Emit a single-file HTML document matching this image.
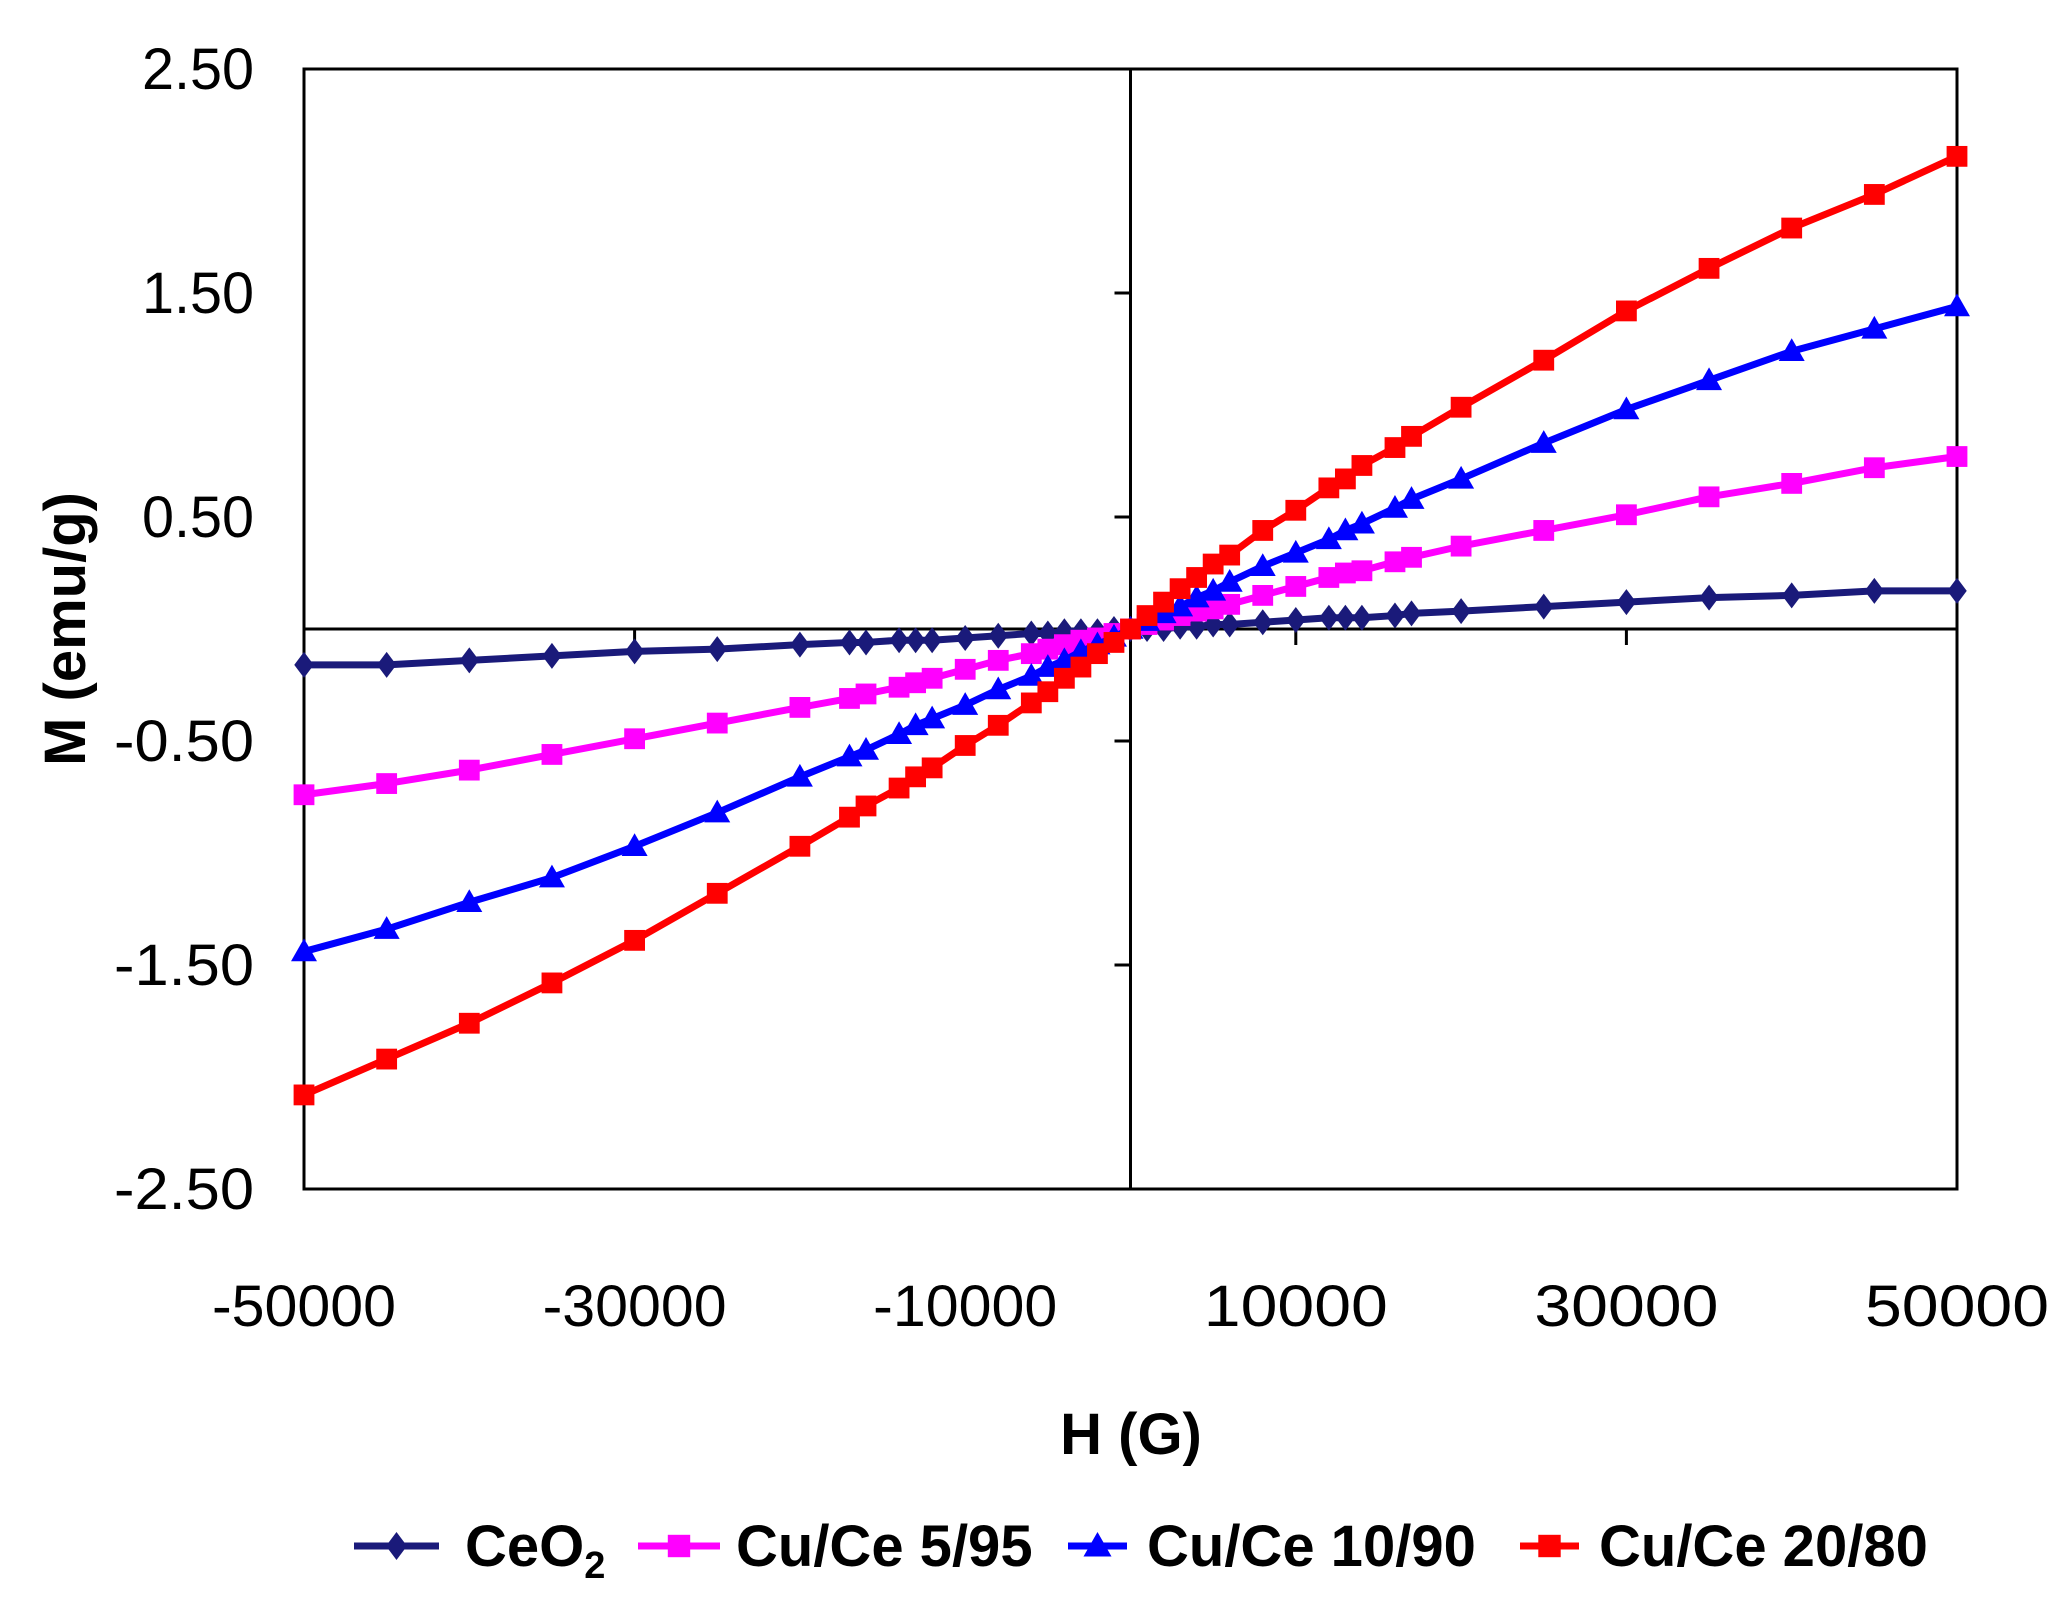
<!DOCTYPE html>
<html><head><meta charset="utf-8"><style>
body{margin:0;background:#fff}
svg text{font-family:"Liberation Sans Narrow","Liberation Sans",sans-serif}
</style></head><body>
<svg id="chart" width="2072" height="1611" viewBox="0 0 2072 1611" xmlns="http://www.w3.org/2000/svg">
<rect width="2072" height="1611" fill="#fff"/>
<g id="axes"></g>
<g id="series"></g>
<text x="1131" y="1454" font-size="58" font-weight="bold" text-anchor="middle">H (G)</text>
<text transform="translate(85,629) rotate(-90)" font-size="58" font-weight="bold" text-anchor="middle">M (emu/g)</text>
<g id="legend"></g>
</svg>
<script>
const H = [-50000,-45000,-40000,-35000,-30000,-25000,-20000,-17000,-16000,-14000,-13000,-12000,-10000,-8000,-6000,-5000,-4000,-3000,-2000,-1000,0,1000,2000,3000,4000,5000,6000,8000,10000,12000,13000,14000,16000,17000,20000,25000,30000,35000,40000,45000,50000];
const ceo2 = [-0.16,-0.16,-0.14,-0.12,-0.10,-0.09,-0.07,-0.06,-0.06,-0.05,-0.05,-0.05,-0.04,-0.03,-0.02,-0.02,-0.01,-0.01,-0.01,0,0,0,0,0.01,0.01,0.02,0.02,0.03,0.04,0.05,0.05,0.05,0.06,0.07,0.08,0.10,0.12,0.14,0.15,0.17,0.17];
const cu595 = [-0.74,-0.69,-0.63,-0.56,-0.49,-0.42,-0.35,-0.31,-0.29,-0.26,-0.24,-0.22,-0.18,-0.14,-0.11,-0.09,-0.07,-0.05,-0.04,-0.02,0,0.02,0.04,0.06,0.08,0.09,0.11,0.15,0.19,0.23,0.25,0.26,0.30,0.32,0.37,0.44,0.51,0.59,0.65,0.72,0.77];
const cu1090 = [-1.44,-1.34,-1.22,-1.11,-0.97,-0.82,-0.66,-0.57,-0.54,-0.47,-0.43,-0.40,-0.34,-0.27,-0.21,-0.17,-0.14,-0.10,-0.07,-0.035,0,0.035,0.07,0.10,0.14,0.17,0.21,0.28,0.34,0.40,0.44,0.47,0.54,0.58,0.67,0.83,0.98,1.11,1.24,1.34,1.44];
const cu2080 = [-2.08,-1.92,-1.76,-1.58,-1.39,-1.18,-0.97,-0.84,-0.79,-0.71,-0.66,-0.62,-0.52,-0.43,-0.33,-0.28,-0.22,-0.17,-0.11,-0.06,0,0.06,0.12,0.18,0.23,0.29,0.33,0.44,0.53,0.63,0.67,0.73,0.81,0.86,0.99,1.20,1.42,1.61,1.79,1.94,2.11];
const xTicks = [-50000,-30000,-10000,10000,30000,50000];
const yTicks = [-2.5,-1.5,-0.5,0.5,1.5,2.5];
const yTickLabels = ["-2.50","-1.50","-0.50","0.50","1.50","2.50"];

const L=304,R=1957,T=69,B=1189;
const xs=v=>L+(v+50000)/100000*(R-L);
const ys=v=>B-(v+2.5)/5*(B-T);
const NS="http://www.w3.org/2000/svg";
function mk(tag,attrs,parent){const e=document.createElementNS(NS,tag);for(const k in attrs)e.setAttribute(k,attrs[k]);parent.appendChild(e);return e;}
const ax=document.getElementById('axes');
let e=mk('rect',{x:L,y:T,width:R-L,height:B-T,fill:'none',stroke:'#000','stroke-width':3},ax);


e=mk('line',{x1:L,x2:R,y1:ys(0),y2:ys(0),stroke:'#000','stroke-width':3},ax);


e=mk('line',{x1:xs(0),x2:xs(0),y1:T,y2:B,stroke:'#000','stroke-width':3},ax);


xTicks.forEach(v=>{
  const t=mk('line',{x1:xs(v),x2:xs(v),y1:ys(0),y2:ys(0)+16,stroke:'#000','stroke-width':3},ax);
  
  
  const l=mk('text',{x:xs(v),y:1326,'font-size':58,'text-anchor':'middle',textLength:184,lengthAdjust:'spacingAndGlyphs'},ax);
  l.textContent=String(v);
  
  
});
yTicks.forEach((v,i)=>{
  const t=mk('line',{x1:xs(0)-16,x2:xs(0),y1:ys(v),y2:ys(v),stroke:'#000','stroke-width':3},ax);
  
  
  const lab=yTickLabels[i];
  const l=mk('text',{x:254,y:ys(v)+20,'font-size':58,'text-anchor':'end',textLength:lab.length*28,lengthAdjust:'spacingAndGlyphs'},ax);
  l.textContent=lab;
  
  
});
function marker(g,type,x,y,c,s){
  if(type==='diamond') return mk('polygon',{points:`${x},${y-s} ${x+s*0.75},${y} ${x},${y+s} ${x-s*0.75},${y}`,fill:c},g);
  if(type==='square') return mk('rect',{x:x-s*0.8,y:y-s*0.8,width:s*1.6,height:s*1.6,fill:c},g);
  return mk('polygon',{points:`${x},${y-s} ${x+s},${y+s*0.75} ${x-s},${y+s*0.75}`,fill:c},g);
}
const seriesDefs=[
  {name:'ceo2',vals:ceo2,c:'#1a1a7a',m:'diamond'},
  {name:'cu-ce-5-95',vals:cu595,c:'#ff00ff',m:'square'},
  {name:'cu-ce-10-90',vals:cu1090,c:'#0000ff',m:'triangle'},
  {name:'cu-ce-20-80',vals:cu2080,c:'#ff0000',m:'square'}
];
const sg=document.getElementById('series');
seriesDefs.forEach(s=>{
  const g=mk('g',{},sg);
  
  
  const p=mk('polyline',{points:H.map((h,i)=>xs(h)+','+ys(s.vals[i])).join(' '),fill:'none',stroke:s.c,'stroke-width':7,'stroke-linejoin':'round'},g);
  
  
  H.forEach((h,i)=>{
    const m=marker(g,s.m,xs(h),ys(s.vals[i]),s.c,13);
    
    
  });
});
const lg=document.getElementById('legend');
const leg=[{x1:354,x2:439,tx:465,t:'CeO',sub:'2'},{x1:638,x2:720,tx:736,t:'Cu/Ce 5/95'},{x1:1068,x2:1127,tx:1147,t:'Cu/Ce 10/90'},{x1:1520,x2:1579,tx:1599,t:'Cu/Ce 20/80'}];
leg.forEach((d,i)=>{
  const s=seriesDefs[i];const y=1546;
  const g=mk('g',{},lg);
  
  
  mk('line',{x1:d.x1,x2:d.x2,y1:y,y2:y,stroke:s.c,'stroke-width':7},g);
  marker(g,s.m,(d.x1+d.x2)/2,y,s.c,14);
  const t=mk('text',{x:d.tx,y:y+20,'font-size':58,'font-weight':'bold'},g);
  t.textContent=d.t;
  if(d.sub){const ts=mk('tspan',{'font-size':38,dy:12},t);ts.textContent=d.sub;}
});
</script>
</body></html>
